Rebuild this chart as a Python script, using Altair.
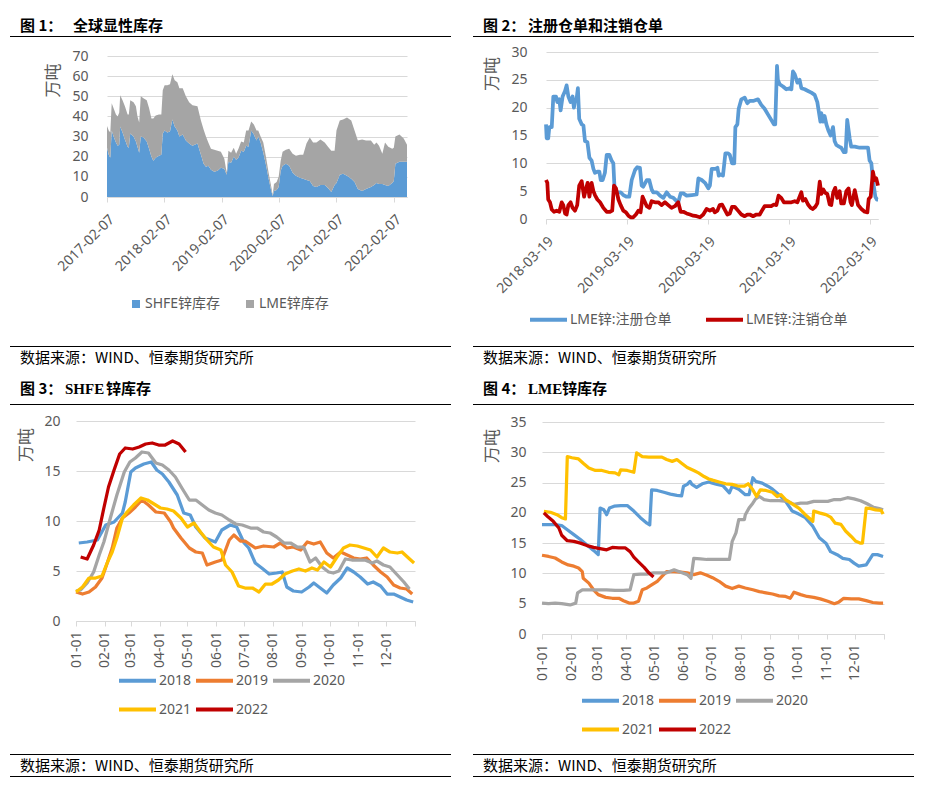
import altair as alt
import pandas as pd

LATIN = "Noto Sans, Noto Sans CJK SC"
CJK = "Noto Sans CJK SC"
AXIS_TXT = "#595959"
GRID = "#D9D9D9"
SOURCE = "数据来源：WIND、恒泰期货研究所"

# ---------------- Panel 1: 全球显性库存 (stacked area) ----------------
p1_names = ["SHFE锌库存", "LME锌库存"]
p1_colors = ["#5B9BD5", "#A5A5A5"]
p1_ticks = ["2017-02-07", "2018-02-07", "2019-02-07", "2020-02-07", "2021-02-07", "2022-02-07"]
p1_dates = ["2017-02-07","2017-02-18","2017-02-28","2017-03-09","2017-03-21","2017-04-05","2017-04-16","2017-04-26","2017-05-02","2017-05-17",
            "2017-06-01","2017-06-18","2017-06-26","2017-07-05","2017-07-26","2017-08-10","2017-08-20","2017-08-31","2017-09-10","2017-09-27",
            "2017-10-18","2017-11-02","2017-11-17","2017-11-29","2017-12-14","2018-01-04","2018-01-19","2018-01-28","2018-02-09","2018-02-26",
            "2018-03-15","2018-03-30","2018-04-14","2018-05-01","2018-05-14","2018-06-04","2018-06-24","2018-07-15","2018-08-05","2018-09-06",
            "2018-09-28","2018-10-15","2018-10-30","2018-11-14","2018-12-01","2018-12-22","2019-01-12","2019-02-02","2019-02-24","2019-03-11",
            "2019-03-22","2019-04-08","2019-04-25","2019-05-10","2019-05-25","2019-06-11","2019-06-28","2019-07-13","2019-07-28","2019-08-14",
            "2019-08-31","2019-09-17","2019-09-28","2019-10-13","2019-10-30","2019-11-16","2019-12-03","2019-12-20","2019-12-29","2020-01-06",
            "2020-01-23","2020-02-05","2020-02-18","2020-03-01","2020-03-22","2020-04-12","2020-05-04","2020-05-25","2020-06-19","2020-07-10",
            "2020-07-31","2020-08-21","2020-09-11","2020-10-02","2020-10-28","2020-11-24","2020-12-15","2021-01-05","2021-01-26","2021-02-07",
            "2021-02-28","2021-03-21","2021-04-15","2021-05-12","2021-06-02","2021-06-23","2021-07-20","2021-08-14","2021-09-14","2021-10-05",
            "2021-10-20","2021-11-05","2021-11-26","2021-12-13","2022-01-03","2022-01-28","2022-02-07","2022-02-17","2022-03-15","2022-04-11",
            "2022-05-02"]
p1_shfe = [24.5,21,19.5,33,30,27,25.5,26,35,32,
           28.5,25,24.5,31.5,30,27.5,25,22,30,29.5,
           27.5,24,20,18,19.5,20.5,21,31.5,33,32,
           32.5,38.5,35,33,30,31,28,26.5,25.5,26.5,
           21,16.5,15,15.5,13.5,12.5,13,14.5,14,11,
           17.5,17,20,18.5,19.5,23,22.5,25.5,25,33,
           31,28,30,27,22,16,9,3,0.5,3,
           3.5,5,13,15.5,16.5,15.5,12,10.5,9.5,9,
           8.5,8,5.5,5,6,6,4.5,2.5,6,7,
           11,11.5,10.5,9,7.5,4,3,4,5,6,
           7,6.5,6.5,6,5.5,7,8,16.5,17.5,17.5,17.5]
p1_lme = [10.8,12,12.5,13.5,14,14,14.5,16,15.5,16,
          16.5,16,16.5,16.5,17,17.5,15,15,20,19.5,
          20.5,20,19,21,21,20.5,20,21.5,22.5,23.5,
          23.5,22.5,23,24,24,23,22,20.5,20,18.5,
          17,17,15,11.5,10.5,11,10,8,5,1,
          5.5,5,4.5,3,4.5,4.5,4.5,7.5,8,4.5,
          5,5,3,3,5,4,3,2,0.5,3.5,
          4,5,5,7,7,8.5,9.5,10,11.5,12,
          18,21.5,21.5,22,22.5,21,20.5,20.5,17,26,
          27,27,29,29,25.5,24,25.5,24,23,20,
          20,19,15,21,19.5,17,16.5,13.5,13.5,11.5,8.5]

# ---------------- Panel 2: 注册仓单和注销仓单 ----------------
p2_start = "2018-03-19"
p2_names = ["LME锌:注册仓单", "LME锌:注销仓单"]
p2_colors = ["#5B9BD5", "#C00000"]
p2_ticks = ["2018-03-19", "2019-03-19", "2020-03-19", "2021-03-19", "2022-03-19"]
p2_reg_day = [0,3,10,15,26,33,45,51,60,66,75,86,93,101,111,120,126,132,138,144,150,161,169,176,187,196,206,214,221,232,
              241,247,256,266,274,286,296,304,310,322,337,349,364,376,387,402,412,424,432,439,455,466,477,484,500,515,530,545,560,575,
              590,597,608,620,635,658,680,688,703,718,733,740,748,
              754,765,774,780,789,799,810,822,830,840,850,855,864,870,882,897,909,920,935,957,972,987,1002,1017,1029,1035,
              1043,1047,1055,1070,1085,1100,1108,1115,1123,1135,1145,1153,1168,1183,1198,1213,1225,1231,1239,1243,1251,1258,1266,1276,
              1285,1296,1303,1311,1323,1333,1345,1353,1360,1371,1378,1394,1416,1439,1454,1461,1469,1476,1487,1494,1499]
p2_reg_val = [17,14.5,14.5,16.5,16.5,22,22,21,21.5,19.5,22,23,24,22,21,22,20,21.5,21.5,23.5,18,17,16.8,14,13.8,11,10.5,9,8.3,8.5,
              8.5,7,7,8.3,11.5,11.5,10.5,10,5,4.8,4.8,4.3,4,4,7,8.8,9.3,9.2,6,5.8,7,7,5.3,4.8,4.8,4.2,3.8,4.8,4,3.8,
              3.2,3,4.6,4.6,4.2,4.3,4.4,7.3,7,6.5,5.5,6,9,
              9,9,9.2,7.8,8,7.8,11.8,11.8,11.5,10,10,16.5,17,19.8,21.5,21.8,20.8,21.2,21.2,21.5,20.5,19.8,18.8,17.8,17,17,
              27.5,25,24.2,23.8,23.3,23.5,23.3,26.5,26,24.5,25,23.5,23.3,23,22.7,22.3,21,19.5,17.5,19,17.5,18.5,17,15.8,
              15,16.5,14,13.3,13,12.8,12,12,17.8,14.5,13,13,12.8,12.8,12.8,10.5,10,7,4,3.5,3.5]
p2_can_day = [0,6,10,18,26,36,48,60,71,78,86,93,101,111,120,131,141,150,161,172,181,188,196,206,214,221,232,244,259,274,
              289,299,307,316,327,337,349,361,372,382,394,406,417,427,436,447,455,467,477,492,507,522,537,552,567,582,597,608,620,635,
              650,665,680,695,710,725,740,
              754,762,774,784,795,807,819,830,840,852,867,882,897,909,920,935,950,965,975,987,1002,1017,1029,1040,1050,1062,1074,1092,1108,1123,
              1135,1145,1153,1160,1171,1183,1195,1205,1216,1225,1236,1243,1252,1261,1270,1281,1288,1297,1306,1315,1326,1333,1345,1356,1366,1375,1381,1394,1409,1424,
              1439,1451,1457,1466,1476,1484,1491,1499]
p2_can_val = [7,6.5,3.5,3,1.7,1.3,1.5,1.3,3,2.5,1,0.8,2.5,3,2,1.5,2.5,6,6.8,4,5.5,6.5,4,6.5,5,4.3,3.5,3,2,1.3,
              1.3,1.5,6,5.5,3.5,2.5,1.5,1.2,0.6,0.3,0.3,0.8,1.5,1.2,4,3,2.3,2,3.2,3,3,2.5,3,2.5,2,2.3,3,1.3,1.3,1,
              0.8,0.6,0.5,0.3,0.8,1.8,1.5,
              1.8,1.2,1.5,2.5,2.6,1.7,0.8,1,2.2,2.2,1.5,0.8,0.5,0.8,0.8,0.5,0.8,0.8,1.5,2.3,2.3,2.3,2.6,2.5,4.2,3.8,3,3,3,3.2,
              3,4,4.8,3.3,3.6,2.6,2,1.8,2.2,2.8,6.7,4.5,5.3,4.7,4.5,2.6,2.5,4.8,5.6,3.8,5,2.8,2.8,5,5.5,3,2.5,5.2,2.5,1.8,
              1.3,1.2,3.6,4,8.5,7,7.3,6]

# ---------------- Panel 3 & 4: seasonal (day of year) ----------------
years = ["2018", "2019", "2020", "2021", "2022"]
year_colors = ["#5B9BD5", "#ED7D31", "#A5A5A5", "#FFC000", "#C00000"]
month_ticks = ["2018-%02d-01" % m for m in range(1, 13)] + ["2019-01-01"]

p3_day = {
    "2018": [3,12,23,32,41,50,53,59,64,73,81,87,93,100,109,116,123,129,139,150,157,166,173,181,186,193,200,208,216,222,
             227,234,243,251,256,263,270,277,285,292,299,306,314,320,328,335,342,349,356,363],
    "2019": [0,7,14,21,28,34,39,44,50,57,64,71,78,86,95,102,105,113,122,129,136,141,150,157,165,170,177,182,193,202,
             213,220,227,234,242,249,256,263,270,277,285,292,299,306,313,320,328,335,342,349,356,362],
    "2020": [0,5,12,19,25,30,37,44,52,58,64,71,78,86,93,100,107,114,122,129,136,143,150,157,165,172,179,188,195,202,
             209,216,224,231,238,245,252,258,265,272,277,283,290,297,304,311,319,324,331,338,346,353,359],
    "2021": [0,7,14,21,28,34,39,44,50,55,62,70,77,84,91,98,105,113,120,127,134,141,148,156,161,168,175,182,190,197,
             204,211,218,225,233,240,247,254,260,267,274,281,288,295,303,310,317,324,331,338,346,351,358,364],
    "2022": [5,12,19,25,30,35,41,47,53,61,68,75,82,89,96,104,111,118],
}
p3_val = {
    "2018": [7.8,7.9,8.1,9.6,9.9,10.8,11.9,14.9,15.3,15.7,15.9,15.1,14.7,13.9,12.6,10.8,10.6,9.4,8.3,7.9,9.1,9.6,9.4,7.8,7.3,5.8,5.3,4.7,4.8,4.9,
             3.4,3.0,2.9,3.4,3.8,3.3,2.8,3.6,4.3,5.3,4.9,4.4,3.7,3.9,3.5,2.7,2.7,2.4,2.1,1.9],
    "2019": [2.9,2.7,2.9,3.4,4.3,5.9,7.3,9.3,10.3,10.8,11.4,12.1,11.6,10.9,10.8,9.9,9.3,8.3,7.3,6.9,6.8,5.6,5.9,6.1,8.1,8.6,8.0,8.0,7.3,7.5,
             7.4,7.8,7.3,7.4,7.1,7.9,7.7,7.9,6.8,6.3,6.9,6.6,6.3,6.2,6.3,5.6,4.9,4.4,3.6,3.3,3.2,2.7],
    "2020": [3.0,3.1,3.8,4.9,6.6,7.9,10.3,12.6,14.9,15.9,16.3,16.9,16.8,15.8,15.6,15.1,14.4,13.3,12.1,12.1,11.6,11.1,10.8,10.6,10.1,9.7,9.6,9.3,9.3,8.9,
             8.8,8.4,7.8,7.8,7.4,7.4,5.9,6.3,5.4,4.9,4.8,5.0,6.2,6.1,6.1,6.1,5.8,6.0,5.6,5.4,4.6,3.9,3.2],
    "2021": [2.9,3.4,4.3,4.3,4.5,5.9,6.9,8.3,10.3,10.9,11.6,12.3,12.1,11.7,11.3,11.2,11.0,10.3,9.4,9.8,8.9,8.1,7.4,7.1,5.6,4.9,3.5,3.3,3.3,2.9,
             3.7,3.7,4.1,4.7,5.0,5.2,5.0,5.3,5.1,5.9,5.4,6.4,7.3,7.6,7.5,7.3,7.1,6.4,7.3,6.9,6.8,6.9,6.3,5.8],
    "2022": [6.4,6.2,7.6,9.1,11.3,13.4,15.1,16.7,17.3,17.2,17.4,17.7,17.8,17.6,17.6,18.0,17.7,16.9],
}

p4_day = {
    "2018": [0,5,14,21,27,34,41,48,55,60,62,66,69,72,77,84,91,98,105,112,115,117,123,130,137,144,149,151,155,158,
             160,165,171,178,182,187,193,200,203,210,217,221,225,228,235,241,246,253,260,267,274,281,289,296,303,308,315,321,328,333,
             338,346,353,358,364],
    "2019": [0,7,14,21,28,34,39,43,44,50,55,60,68,75,82,87,93,98,103,107,112,117,123,128,133,141,148,155,162,169,
             176,182,189,196,203,210,217,225,232,239,246,253,260,265,269,276,283,290,297,305,312,317,322,330,338,346,353,360,364],
    "2020": [0,7,14,21,30,36,38,43,52,60,69,78,87,94,98,105,112,119,126,133,141,148,155,159,162,169,176,182,189,196,
             200,203,207,210,216,217,221,225,228,232,237,244,253,262,269,276,283,290,297,305,312,319,326,333,340,347,354,360,364],
    "2021": [2,9,16,21,25,27,32,39,44,50,57,64,71,78,82,84,91,98,101,107,114,121,128,133,139,144,149,155,162,167,
             173,178,182,189,196,203,210,216,220,225,229,233,239,246,251,255,260,267,274,281,289,290,296,303,308,313,319,324,330,335,
             340,342,346,351,356,362,364],
    "2022": [2,6,12,18,21,27,34,41,48,55,62,69,75,82,89,94,98,103,109,114,119],
}
p4_val = {
    "2018": [18.05,18.05,18.05,17.9,17.2,16.4,15.6,14.7,13.8,13.1,20.8,20.5,19.7,20.8,21.1,21.2,21.2,20.3,19.2,18.3,18.0,23.8,23.7,23.4,23.1,22.9,22.8,24.4,24.7,25.2,
             24.7,24.2,24.8,25.1,24.9,24.7,24.5,23.3,24.4,23.9,23.0,23.0,25.8,25.2,24.9,24.4,23.9,23.0,21.9,20.3,19.8,19.2,17.8,15.9,15.0,13.6,13.1,12.5,12.3,11.7,
             11.2,11.4,13.1,13.1,12.8],
    "2019": [13.0,12.8,12.55,11.9,11.4,11.2,10.9,10.3,9.2,8.4,7.3,6.5,6.05,5.9,5.9,5.5,5.1,5.1,5.4,7.3,7.6,8.1,8.7,9.5,10.3,10.3,10.2,10.1,9.8,10.1,
             9.7,9.3,8.7,7.9,7.5,7.9,7.6,7.3,7.0,6.8,6.6,6.3,6.2,5.9,6.9,6.5,6.2,6.05,5.8,5.4,5.0,5.3,5.9,5.8,5.8,5.5,5.2,5.1,5.1],
    "2020": [5.1,5.0,5.1,5.0,4.8,5.1,6.8,7.3,7.3,7.3,7.3,7.2,7.2,7.3,9.8,9.9,9.9,10.1,10.1,10.1,10.6,10.2,9.8,9.2,12.5,12.4,12.3,12.3,12.3,12.3,
             12.3,15.3,16.7,18.9,18.9,19.7,20.8,21.6,22.3,22.7,22.2,22.0,22.0,21.9,21.4,21.6,21.6,21.9,21.9,21.9,22.2,22.2,22.5,22.3,22.0,21.5,20.9,20.7,20.5],
    "2021": [20.25,20.1,19.7,19.2,19.0,29.3,29.1,28.9,28.2,27.4,27.0,27.0,26.7,26.6,26.3,27.1,27.0,26.7,29.9,29.3,29.2,29.2,29.2,28.8,28.5,28.8,28.2,27.5,27.0,26.6,
             26.0,25.6,25.4,25.1,24.8,24.7,24.4,24.4,24.8,23.8,22.7,23.8,23.7,23.4,22.7,23.0,22.2,21.5,20.8,19.7,18.6,20.3,20.0,19.7,19.3,18.3,18.1,17.0,16.1,15.3,
             15.0,15.0,20.8,20.7,20.5,20.4,19.8],
    "2022": [20.0,19.4,18.6,17.5,16.3,15.4,15.3,15.0,14.6,14.3,14.1,13.9,14.3,14.2,14.2,13.6,12.7,11.9,11.0,10.1,9.4],
}


# ---------------- helpers ----------------
def ms(s):
    return int(pd.Timestamp(s).value // 10**6)


def day_dates(start, days):
    return list((pd.Timestamp(start) + pd.to_timedelta(days, unit="D")).strftime("%Y-%m-%d"))


ONE = pd.DataFrame({"k": [0]})


def txt(s, x, y, size=15, bold=False, font=CJK, color="#000000"):
    return alt.Chart(ONE).mark_text(
        text=s, align="left", baseline="alphabetic", fontSize=size,
        fontWeight="bold" if bold else "normal", font=font, color=color,
    ).encode(x=alt.value(x), y=alt.value(y))


def hline(x1, x2, y, color="#000000"):
    return alt.Chart(ONE).mark_rule(color=color, strokeWidth=1).encode(
        x=alt.value(x1), x2=alt.value(x2), y=alt.value(y))


diag_axis = dict(labelAngle=315, labelAlign="right", labelBaseline="top", labelPadding=10,
                 tickSize=5, grid=False, title=None, labelFlush=False, labelOverlap=False,
                 labelBound=False, labelExpr="utcFormat(datum.value, '%Y-%m-%d')")
month_axis = dict(labelAngle=270, labelAlign="right", labelBaseline="middle", labelPadding=5,
                  tickSize=5, grid=False, title=None, labelFlush=False, labelOverlap=False,
                  labelBound=False,
                  labelExpr="utcyear(datum.value) > 2018 ? '' : utcFormat(datum.value, '%m-%d')")
y_axis = dict(domain=False, ticks=False, tickSize=0, grid=True, titleAngle=270,
              titleAlign="center", titleBaseline="middle", title="万吨")

# ---------------- Panel 1 ----------------
n1 = len(p1_dates)
df1 = pd.DataFrame({
    "date": p1_dates + p1_dates,
    "value": p1_shfe + p1_lme,
    "series": [p1_names[0]] * n1 + [p1_names[1]] * n1,
    "ord": [0] * n1 + [1] * n1,
})
area1 = alt.Chart(df1).mark_area().encode(
    x=alt.X("date:T",
            scale=alt.Scale(type="utc", domain=[ms(p1_dates[0]), ms(p1_dates[-1])], range=[31, "width"]),
            axis=alt.Axis(values=[ms(d) for d in p1_ticks], **diag_axis)),
    y=alt.Y("value:Q", stack="zero",
            scale=alt.Scale(domain=[0, 70], nice=False, range=["height", 4]),
            axis=alt.Axis(values=list(range(0, 71, 10)), titleX=-53.5, titleY=28, offset=-31,
                          labelPadding=19, **y_axis)),
    color=alt.Color("series:N", scale=alt.Scale(domain=p1_names, range=p1_colors),
                    legend=alt.Legend(orient="none", legendX=53, legendY=245, direction="horizontal",
                                      title=None, symbolType="square", symbolSize=64, symbolStrokeWidth=0,
                                      labelOffset=2, columnPadding=22, padding=0)),
    order=alt.Order("ord:Q"),
)
panel1 = alt.layer(
    area1,
    txt("图 1：", -56, -21.5, bold=True), txt("全球显性库存", -3, -21.5, bold=True),
    hline(-66, 375, -15.5), hline(-66, 375, 294.5),
    txt(SOURCE, -56, 311),
    hline(-67.5, -60, -43.5, color="#FFFFFF"),
).properties(width=331, height=145)

# ---------------- Panel 2 ----------------
df2 = pd.DataFrame({
    "date": day_dates(p2_start, p2_reg_day) + day_dates(p2_start, p2_can_day),
    "value": p2_reg_val + p2_can_val,
    "series": [p2_names[0]] * len(p2_reg_day) + [p2_names[1]] * len(p2_can_day),
})
p2_end = day_dates(p2_start, [max(p2_reg_day)])[0]
line2 = alt.Chart(df2).mark_line(strokeWidth=3.75, strokeJoin="round").encode(
    x=alt.X("date:T",
            scale=alt.Scale(type="utc", domain=[ms(p2_start), ms(p2_end)], range=[4, "width"]),
            axis=alt.Axis(values=[ms(d) for d in p2_ticks], **diag_axis)),
    y=alt.Y("value:Q", scale=alt.Scale(domain=[0, 30], nice=False),
            axis=alt.Axis(values=list(range(0, 31, 5)), titleX=-53.5, titleY=21.5, offset=-4,
                          labelPadding=19, **y_axis)),
    color=alt.Color("series:N", scale=alt.Scale(domain=p2_names, range=p2_colors),
                    legend=alt.Legend(orient="none", legendX=-14, legendY=247, direction="horizontal",
                                      title=None, symbolType="stroke", symbolSize=1369, symbolStrokeWidth=4,
                                      labelOffset=1, columnPadding=26, padding=0)),
)
panel2 = alt.layer(
    line2,
    txt("图 2：", -59, -21.5, bold=True), txt("注册仓单和注销仓单", -14, -21.5, bold=True),
    hline(-69, 372, -15.5), hline(-69, 372, 294.5),
    txt(SOURCE, -59, 311),
).properties(width=336, height=167)


# ---------------- Panel 3 & 4 ----------------
def season_df(days, vals):
    rows = []
    for y in years:
        for d, v in zip(day_dates("2018-01-01", days[y]), vals[y]):
            rows.append({"date": d, "value": v, "year": y})
    return pd.DataFrame(rows)


def season_legend(x, y):
    return alt.Legend(orient="none", legendX=x, legendY=y, direction="horizontal", columns=3,
                      title=None, symbolType="stroke", symbolSize=1369, symbolStrokeWidth=4,
                      labelOffset=1, columnPadding=-4, rowPadding=-6, padding=0)


line3 = alt.Chart(season_df(p3_day, p3_val)).mark_line(strokeWidth=3.25, strokeJoin="round").encode(
    x=alt.X("date:T", scale=alt.Scale(type="utc", domain=[ms("2018-01-01"), ms("2019-01-01")]),
            axis=alt.Axis(values=[ms(d) for d in month_ticks], **month_axis)),
    y=alt.Y("value:Q", scale=alt.Scale(domain=[0, 20], nice=False),
            axis=alt.Axis(values=list(range(0, 21, 5)), titleX=-50, titleY=23.5, labelPadding=16, **y_axis)),
    color=alt.Color("year:N", scale=alt.Scale(domain=years, range=year_colors), legend=season_legend(41, 239)),
)
panel3 = alt.layer(
    line3,
    txt("图 3：", -56, -27.5, bold=True), txt("SHFE", -11, -27.5, bold=True, font="Liberation Serif"),
    txt("锌库存", 30, -27.5, bold=True),
    hline(-66, 375, -16.5), hline(-66, 375, 333.5), hline(-66, 375, 355.5),
    txt(SOURCE, -56, 350),
).properties(width=339, height=200)

line4 = alt.Chart(season_df(p4_day, p4_val)).mark_line(strokeWidth=3.25, strokeJoin="round").encode(
    x=alt.X("date:T", scale=alt.Scale(type="utc", domain=[ms("2018-01-01"), ms("2019-01-01")]),
            axis=alt.Axis(values=[ms(d) for d in month_ticks], **month_axis)),
    y=alt.Y("value:Q", scale=alt.Scale(domain=[0, 35], nice=False, range=["height", 1]),
            axis=alt.Axis(values=list(range(0, 36, 5)), titleX=-49.5, titleY=24.5, labelPadding=16, **y_axis)),
    color=alt.Color("year:N", scale=alt.Scale(domain=years, range=year_colors), legend=season_legend(38, 259)),
)
panel4 = alt.layer(
    line4,
    txt("图 4：", -59, -27.5, bold=True), txt("LME", -14, -27.5, bold=True, font="Liberation Serif"),
    txt("锌库存", 20, -27.5, bold=True),
    hline(-69, 372, -16.5), hline(-69, 372, 333.5), hline(-69, 372, 355.5),
    txt(SOURCE, -59, 350),
).properties(width=342, height=213)

chart = alt.concat(
    panel1, panel2, panel3, panel4,
    columns=2, spacing={"row": 202, "column": 127}, bounds="flush", align="each", padding=0,
).resolve_scale(color="independent").resolve_legend(color="independent").configure_view(stroke=None).configure_axis(
    labelFont=LATIN, labelFontSize=14, labelColor=AXIS_TXT,
    domainColor=GRID, tickColor=GRID, gridColor=GRID, gridWidth=1,
    titleFont=CJK, titleFontSize=17, titleColor=AXIS_TXT, titleFontWeight="normal",
).configure_legend(
    labelFont=LATIN, labelFontSize=14, labelColor=AXIS_TXT, labelLimit=0,
)

chart.save("out.html", embed_options={"renderer": "svg", "actions": False})
